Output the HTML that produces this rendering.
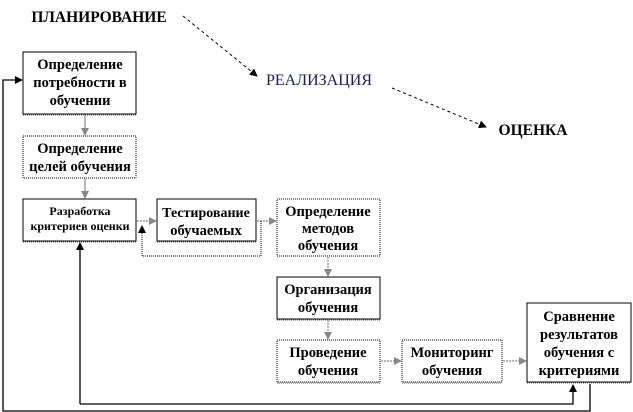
<!DOCTYPE html>
<html><head><meta charset="utf-8"><style>
html,body{margin:0;padding:0;background:#fff;width:633px;height:412px;overflow:hidden}
svg text{font-family:"Liberation Serif","Noto Serif CJK SC",serif;font-weight:bold;font-size:14.5px;text-anchor:middle;fill:#000}
</style></head><body>
<svg width="633" height="412" viewBox="0 0 633 412" xmlns="http://www.w3.org/2000/svg">
<defs>
<marker id="ab" markerWidth="8" markerHeight="8" refX="7" refY="4" orient="auto" markerUnits="userSpaceOnUse"><path d="M0,0 L8,4 L0,8 z" fill="#000"/></marker>
<marker id="ag" markerWidth="8" markerHeight="8" refX="7" refY="4" orient="auto" markerUnits="userSpaceOnUse"><path d="M0,0 L8,4 L0,8 z" fill="#888"/></marker>
</defs>
<text x="99" y="22" style="font-size:15.5px">ПЛАНИРОВАНИЕ</text>
<text x="319" y="85" style="font-weight:normal;fill:#1a1a60;font-size:16px">РЕАЛИЗАЦИЯ</text>
<text x="533" y="135" style="font-size:15.5px">ОЦЕНКА</text>
<line x1="183" y1="16" x2="257" y2="76" stroke="#000" stroke-dasharray="3,3" marker-end="url(#ab)"/>
<line x1="392" y1="88" x2="486" y2="127" stroke="#000" stroke-dasharray="3,3" marker-end="url(#ab)"/>
<g fill="#fff" stroke="#000" stroke-width="1">
<rect x="23" y="52" width="113" height="62"/>
<rect x="23" y="136" width="113" height="42" stroke-dasharray="1,1"/>
<rect x="23" y="199" width="113" height="42"/>
<rect x="157" y="199" width="99" height="42"/>
<rect x="277" y="199" width="103" height="57" stroke-dasharray="1,1"/>
<rect x="277" y="277" width="103" height="42"/>
<rect x="277" y="340" width="103" height="42" stroke-dasharray="1,1"/>
<rect x="402" y="340" width="100" height="42" stroke-dasharray="1,1"/>
<rect x="527" y="303" width="104" height="79"/>
</g>
<g stroke="#555" stroke-dasharray="1,1">
<line x1="23" y1="115" x2="136" y2="115"/><line x1="23" y1="242" x2="136" y2="242"/>
<line x1="157" y1="242" x2="256" y2="242"/><line x1="277" y1="320" x2="380" y2="320"/>
<line x1="277" y1="383" x2="380" y2="383"/><line x1="402" y1="383" x2="502" y2="383"/>
<line x1="527" y1="383" x2="631" y2="383"/>
</g>
<text x="80" y="69">Определение</text><text x="80" y="87">потребности в</text><text x="80" y="105">обучении</text>
<text x="80" y="153">Определение</text><text x="80" y="171">целей обучения</text>
<text x="80" y="215" style="font-size:12px">Разработка</text><text x="80" y="230" style="font-size:12px">критериев оценки</text>
<text x="206" y="217" style="font-size:14px">Тестирование</text><text x="206" y="235">обучаемых</text>
<text x="328" y="216">Определение</text><text x="328" y="233">методов</text><text x="328" y="250">обучения</text>
<text x="328" y="294">Организация</text><text x="328" y="312">обучения</text>
<text x="328" y="357">Проведение</text><text x="328" y="375">обучения</text>
<text x="452" y="357">Мониторинг</text><text x="452" y="375">обучения</text>
<text x="579" y="321">Сравнение</text><text x="579" y="339">результатов</text><text x="579" y="357">обучения с</text><text x="579" y="375">критериями</text>
<g stroke="#888" stroke-width="1.2">
<line x1="85" y1="115" x2="85" y2="135" marker-end="url(#ag)"/>
<line x1="85" y1="178" x2="85" y2="198" marker-end="url(#ag)"/>
<line x1="137" y1="221" x2="156" y2="221" marker-end="url(#ag)" stroke-dasharray="2,1"/>
<line x1="257" y1="221" x2="276" y2="221" marker-end="url(#ag)" stroke-dasharray="2,1"/>
<line x1="328" y1="257" x2="328" y2="276" marker-end="url(#ag)" stroke-dasharray="2,1"/>
<line x1="328" y1="320" x2="328" y2="339" marker-end="url(#ag)" stroke-dasharray="2,1"/>
<line x1="381" y1="361" x2="401" y2="361" marker-end="url(#ag)" stroke-dasharray="2,1"/>
<line x1="503" y1="361" x2="526" y2="361" marker-end="url(#ag)" stroke-dasharray="2,1"/>
</g>
<polyline points="261,221 261,256 142,256 142,226" fill="none" stroke="#000" stroke-dasharray="1,1" marker-end="url(#ab)"/>
<polyline points="80,404 80,243" fill="none" stroke="#000" stroke-width="1.3" marker-end="url(#ab)"/>
<polyline points="80,404 573,404 573,385" fill="none" stroke="#000" stroke-width="1.3" marker-end="url(#ab)"/>
<polyline points="590,384 590,411 3,411 3,80 22,80" fill="none" stroke="#000" stroke-width="1.3" marker-end="url(#ab)"/>
</svg>
</body></html>
